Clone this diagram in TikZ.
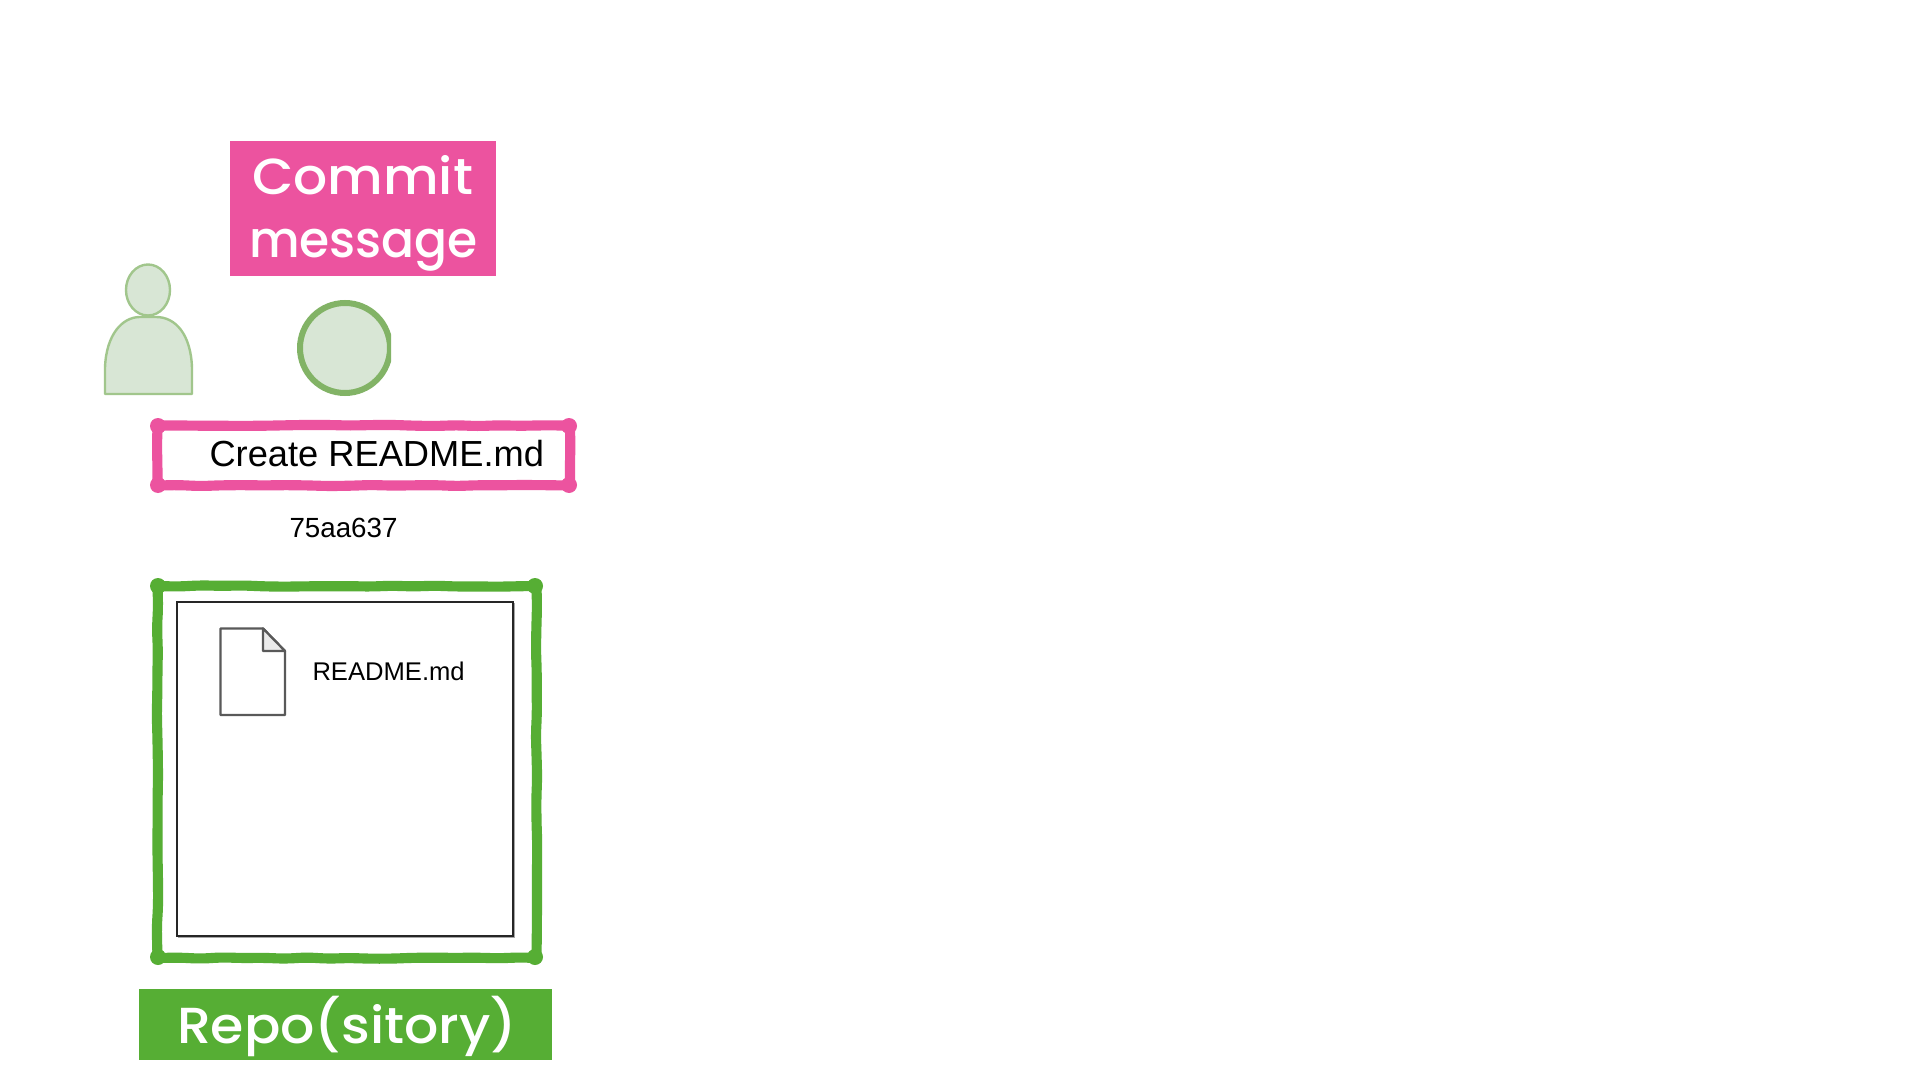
\documentclass[tikz,border=0pt]{standalone}
\usepackage{fontspec}
\usepackage{graphicx}
\setmainfont{Liberation Sans}
\newfontfamily\handfont{Poppins Medium}
\usetikzlibrary{decorations.pathmorphing}
\definecolor{pinkc}{HTML}{EC539F}
\definecolor{greenc}{HTML}{56AE34}
\definecolor{softfill}{HTML}{D8E6D5}
\definecolor{softline}{HTML}{82B366}
\newcommand{\fsz}[1]{\fontsize{#1}{#1}\selectfont}
\newcommand{\handtext}[2]{\resizebox{#1}{\height}{\handfont\fsz{38}\textcolor{white}{#2}}}
\pgfmathsetseed{11}
\tikzset{
  x=0.75pt,y=-0.75pt,
  lbl/.style={anchor=base west,inner sep=0pt,outer sep=0pt,text=black},
  wob/.style={line width=7.6pt,line cap=round,decorate,
     decoration={random steps,segment length=16pt,amplitude=0.55pt},rounded corners=6pt},
  softshape/.style={fill=softfill,draw=softline!75,line width=1.8pt,line join=round}
}
\begin{document}
\begin{tikzpicture}
\useasboundingbox[fill=white] (0,0) rectangle (1920,1080);
% pink label
\fill[pinkc] (230,141) rectangle (496,276);
\node[lbl] (commit) at (252,195) {\handtext{165.7pt}{Commit}};
\node[lbl] (message) at (249,258) {\handtext{171.7pt}{message}};
% person
\draw[softshape] (148,290) ellipse (22 and 25.5);
\draw[softshape] (105,394) -- (105,368) .. controls (106,335) and (122,317) .. (140,317)
   -- (156,317) .. controls (176,317) and (191,335) .. (192,368) -- (192,394) -- cycle;
% circle cut at right
\begin{scope}
\clip (290,295) rectangle (391,400);
\draw[fill=softfill,draw=softline,line width=4.5pt] (345,348) circle (45);
\end{scope}
% pink frame
\foreach \a/\b/\c/\d in {157.5/425.5/570/425.5,157.5/485.5/570/485.5,157.5/425.5/157.5/485.5,570/425.5/570/485.5}{
  \draw[wob,pinkc] (\a,\b) -- (\c,\d);
}
\foreach \a/\b in {158/426,569/426,158/485,569/485}{
  \fill[pinkc] (\a,\b) circle (8);
}
\node[lbl] (title) at (209.5,466.5) {\fsz{27.2}Create README.md};
\node[lbl] (hash) at (289.5,537) {\fsz{20.8}75aa637};
% green frame
\foreach \a/\b/\c/\d in {157.5/586/536.5/586,157.5/958/536.5/958,157.5/586/157.5/958,536.5/586/536.5/958}{
  \draw[wob,greenc] (\a,\b) -- (\c,\d);
}
\foreach \a/\b in {158/586,535/586,158/957,535/957}{
  \fill[greenc] (\a,\b) circle (8);
}
% inner square
\draw[black!35,line width=1.2pt] (178.5,603.5) rectangle (514.5,937.5);
\draw[fill=white,draw=black!85,line width=1.6pt] (177,602) rectangle (513,936);
% file icon
\draw[fill=white,draw=black!65,line width=1.7pt,line join=round] (220.5,628.5) -- (263,628.5) -- (285,651) -- (285,715) -- (220.5,715) -- cycle;
\draw[fill=black!8,draw=black!65,line width=1.7pt,line join=round] (263,628.5) -- (285,651) -- (263,651) -- cycle;
\node[lbl] (file) at (312.5,680) {\fsz{19.2}README.md};
% green label
\fill[greenc] (139,989) rectangle (552,1060);
\begin{scope}
\clip (139,989) rectangle (552,1060);
\node[lbl] (repo) at (177,1043) {\handtext{255pt}{Repo(sitory)}};
\end{scope}
\end{tikzpicture}
\end{document}
